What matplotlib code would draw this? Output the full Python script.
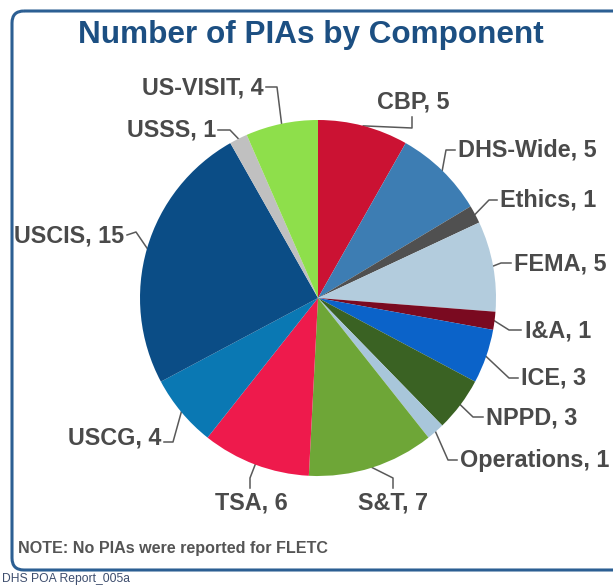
import numpy as np
import matplotlib
matplotlib.use("Agg")
import matplotlib.pyplot as plt
from matplotlib.patches import FancyBboxPatch

# ---- data ----
components = ["CBP", "DHS-Wide", "Ethics", "FEMA", "I&A", "ICE", "NPPD",
              "Operations", "S&T", "TSA", "USCG", "USCIS", "USSS", "US-VISIT"]
counts = [5, 5, 1, 5, 1, 3, 3, 1, 7, 6, 4, 15, 1, 4]
colors = ["#CB1233", "#3D7DB3", "#505050", "#B3CCDD", "#7A0A20", "#0B63C9",
          "#3A6223", "#A8C6DA", "#6EA637", "#EE1A4C", "#0A78B3", "#0B4D86",
          "#C0C0C0", "#8EDF4B"]
title = "Number of PIAs by Component"
note = "NOTE: No PIAs were reported for FLETC"
footer = "DHS POA Report_005a"

# ---- layout (image pixel coords, y downward) ----
W, H = 613, 587
cx, cy, R = 318, 298, 178
# text position, alignment, leader points (text end, elbow)
label_layout = {
    "CBP":        ((413, 102), "center", [(412, 117), (412, 128)]),
    "DHS-Wide":   ((458, 150), "left",   [(455, 150), (446, 150)]),
    "Ethics":     ((500, 200), "left",   [(497, 200), (489, 200)]),
    "FEMA":       ((514, 264), "left",   [(511, 263), (501, 263)]),
    "I&A":        ((525, 331), "left",   [(521, 330), (509, 330)]),
    "ICE":        ((521, 378), "left",   [(518, 378), (509, 378)]),
    "NPPD":       ((486, 418), "left",   [(483, 417), (473, 417)]),
    "Operations": ((460, 460), "left",   [(457, 460), (448, 460)]),
    "S&T":        ((393, 503), "center", [(393, 488), (393, 478)]),
    "TSA":        ((251, 503), "center", [(250, 488), (250, 478)]),
    "USCG":       ((161, 438), "right",  [(164, 442), (173, 442)]),
    "USCIS":      ((124, 236), "right",  [(127, 235), (136, 232)]),
    "USSS":       ((216, 130), "right",  [(218, 130), (230, 130)]),
    "US-VISIT":   ((264, 88),  "right",  [(266, 87), (277, 87)]),
}

plt.rcParams['font.family'] = ['Liberation Sans', 'DejaVu Sans']
fig = plt.figure(figsize=(W / 100, H / 100), dpi=100)
ax = fig.add_axes([0, 0, 1, 1])
ax.set_xlim(0, W)
ax.set_ylim(H, 0)
ax.axis("off")

# frame
frame = FancyBboxPatch((12, 11), 640, 559, boxstyle="round,pad=0,rounding_size=12",
                       fill=False, edgecolor="#2C5F93", linewidth=2.2, zorder=1)
ax.add_patch(frame)

# pie: separate axes (y up) so the direction is natural
pax = fig.add_axes([(cx - R) / W, 1 - (cy + R) / H, 2 * R / W, 2 * R / H])
pax.axis("off")
wedges, _ = pax.pie(counts, colors=colors, startangle=90, counterclock=False,
                    radius=1.0, center=(0, 0),
                    wedgeprops=dict(linewidth=0))
pax.set_xlim(-1, 1)
pax.set_ylim(-1, 1)

line_color = "#595959"
text_color = "#4A4A4A"
for w, name, val in zip(wedges, components, counts):
    mid = np.deg2rad((w.theta1 + w.theta2) / 2)
    ax_x = cx + R * np.cos(mid)
    ax_y = cy - R * np.sin(mid)
    (tx, ty), ha, pts = label_layout[name]
    xs = [p[0] for p in pts] + [ax_x]
    ys = [p[1] for p in pts] + [ax_y]
    ax.plot(xs, ys, color=line_color, linewidth=1.1, zorder=3)
    ax.text(tx, ty, f"{name}, {val}", ha=ha, va="center", fontsize=16.8,
            fontweight="bold", color=text_color, zorder=4)

ax.text(311, 35, title, ha="center", va="center", fontsize=22.7,
        fontweight="bold", color="#1C4F82")
ax.text(18, 549, note, ha="left", va="center", fontsize=11.6,
        fontweight="bold", color="#555555")
ax.text(2, 579, footer, ha="left", va="center", fontsize=8.7,
        color="#3E4E6E")

fig.savefig("out.png", dpi=100)
